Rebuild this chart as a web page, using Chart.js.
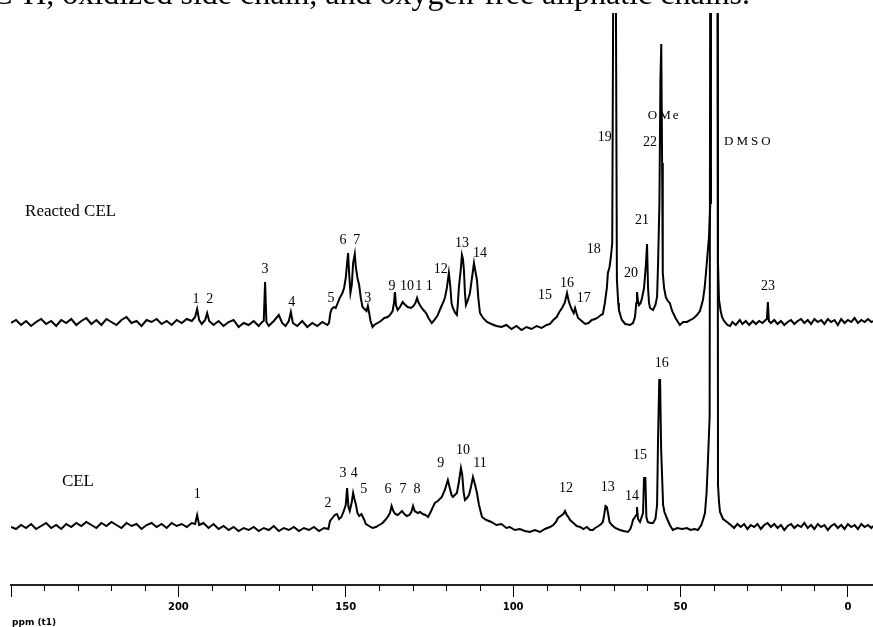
<!DOCTYPE html>
<html>
<head>
<meta charset="utf-8">
<script src="https://cdn.jsdelivr.net/npm/chart.js@4.4.1/dist/chart.umd.min.js"></script>
<style>
  html, body { margin: 0; padding: 0; background: #fff; overflow: hidden; }
  #wrap { position: relative; width: 873px; height: 627px; }
  #caption {
    position: absolute; top: -23px; right: 123px;
    font: 32px/32px "Liberation Serif", "Times New Roman", serif;
    white-space: nowrap; color: #000;
  }
  canvas { position: absolute; left: 0; top: 0; }
</style>
</head>
<body>
<div id="wrap">
  <canvas id="nmrChart" width="873" height="627"></canvas>
  <div id="caption">C-H, oxidized side chain, and oxygen-free aliphatic chains.</div>
</div>
<script>
// 13C NMR traces: [ppm, intensity above baseline]
const reactedSpectrum = [
  [250,0],[248.5,3],[247,-2],[245.5,2],[244,-3],[242.5,1],[241,4],[239.5,-1],[238,2],[236.5,-3],
  [235,3],[233.5,0],[232,4],[230.5,-2],[229,2],[227.5,5],[226,-1],[224.5,3],[223,-2],[221.5,4],
  [220,1],[218.5,-2],[217,3],[215.5,6],[214,0],[212.5,2],[211,-3],[209.5,3],[208,1],[206.5,4],
  [205,-1],[203.5,2],[202,-2],[200.5,3],[199,0],[197.5,4],[196,2],[195,6],[194.4,14],[193.8,3],
  [193,-1],[192,3],[191.4,10],[190.8,2],[189.5,-2],[188,2],[186.5,-3],[185,1],[183.5,3],[182,-4],
  [180.5,0],[179,-2],[177.5,2],[176,-3],[175,1],[174.5,2],[174.1,41],[173.7,1],[173,-3],[171.5,2],
  [170,8],[169,0],[168,-3],[167,2],[166.4,11],[165.8,0],[164.5,-3],[163,2],[161.5,-4],[160,0],
  [158.5,-3],[157,1],[155.5,-2],[155,0],[154.6,10],[154.2,14],[153.5,16],[153,15],[152.4,20],[151.8,25],
  [151,30],[150.5,35],[150,45],[149.6,60],[149.3,70],[149,50],[148.6,30],[148.2,38],[147.8,60],[147.3,69],
  [147,56],[146.5,45],[146,38],[145.5,25],[145,16],[144.4,14],[143.8,12],[143.4,17],[143,10],[142.6,2],
  [142,-4],[141.5,-2],[140.5,0],[139.5,2],[138.5,5],[137.5,6],[136.8,8],[136,12],[135.6,20],[135.3,31],
  [135,18],[134.5,13],[133.8,16],[133,21],[132.5,19],[131.5,16],[130.5,15],[129.8,17],[129.2,20],[128.7,25],
  [128.2,20],[127.5,16],[126.8,13],[126,10],[125.3,5],[124.3,0],[123.5,3],[122.5,8],[121.9,13],[121,20],
  [120.4,25],[119.8,35],[119.2,50],[118.8,38],[118.4,20],[118,15],[117.3,10],[116.8,8],[116.5,20],[116.2,36],
  [115.6,55],[115.3,68],[115,64],[114.7,53],[114.4,30],[114.1,18],[113.6,22],[112.9,30],[112.3,45],[111.7,60],
  [111.3,52],[110.8,43],[110.4,25],[109.9,10],[109,5],[107.8,1],[106.5,-1],[105,-3],[103.5,-4],[102,-2],
  [100.5,-6],[99,-3],[97.5,-7],[96,-4],[94.5,-6],[93,-3],[91.5,-5],[90,-2],[89,-1],[88,3],
  [87,6],[86.2,11],[85.4,15],[84.6,20],[83.9,30],[83.4,22],[82.8,16],[82.4,13],[81.9,10],[81.5,15],
  [81,9],[80.6,5],[79.5,2],[78.5,-1],[77.5,0],[76.5,3],[75.5,4],[74.5,6],[73.8,8],[73.2,9],
  [72.6,20],[72,35],[71.7,50],[71.2,56],[70.8,66],[70.4,80],[70,420],[69.4,420],[69,43],[68.6,20],
  [68.4,13],[67.8,6],[67.5,3],[66.5,-1],[65.1,-2],[64.2,0],[63.6,6],[63.2,20],[63,31],[62.7,22],
  [62.4,18],[61.9,20],[61.5,25],[61.2,30],[60.9,35],[60.3,60],[60,79],[59.7,35],[59.4,20],[59.1,15],
  [58.2,13],[57.5,18],[57,26],[56.7,60],[56.3,120],[56,243],[55.75,279],[55.5,160],[55.3,50],[54.9,35],
  [54.4,26],[53.8,22],[53.2,20],[52.5,12],[51.5,5],[50.2,-2],[49.2,1],[48.1,1],[47,3],[46,5],
  [45.1,8],[44.2,12],[43.3,23],[42.8,35],[42.4,50],[41.9,70],[41.5,86],[41.1,120],[40.9,700],[39,700],
  [38.8,60],[38.5,23],[38,12],[37.6,6],[37,2],[36,-2],[35.2,-3],[34.5,1],[33.5,-2],[32.3,3],
  [31.5,-1],[30.5,2],[29.5,-2],[28.4,2],[27.5,-1],[26.5,2],[25.5,0],[24.6,3],[24.2,4],[23.9,21],
  [23.6,2],[23,0],[22,3],[21,-1],[20,2],[19,-2],[18,1],[17,3],[16,-1],[15,2],
  [14,4],[13,0],[12,3],[11,-1],[10,4],[9,1],[8,3],[7,-1],[6,4],[5,1],
  [4,3],[3,-2],[2,4],[1,0],[0,3],[-1,1],[-2,5],[-3,0],[-4,3],[-5,1],
  [-6,4],[-7,1],[-7.5,2]
];

const celSpectrum = [
  [250,0],[248.5,-2],[247,2],[245.5,-1],[244,3],[242.5,-2],[241,1],[239.5,4],[238,-1],[236.5,2],
  [235,-2],[233.5,3],[232,0],[230.5,4],[229,1],[227.5,5],[226,2],[224.5,-1],[223,4],[221.5,1],
  [220,5],[218.5,2],[217,-1],[215.5,4],[214,1],[212.5,3],[211,-2],[209.5,2],[208,4],[206.5,0],
  [205,3],[203.5,-1],[202,4],[200.5,1],[199,3],[197.5,0],[196,4],[195,3],[194.4,12],[193.8,2],
  [192.5,4],[191,-1],[189.5,3],[188,-2],[186.5,1],[185,-3],[183.5,0],[182,-4],[180.5,-1],[179,-3],
  [177.5,0],[176,-4],[174.5,-1],[173,-3],[171.5,1],[170,-4],[168.5,-1],[167,-3],[165.5,0],[164,-4],
  [162.5,-1],[161,-3],[159.5,0],[158,-4],[156.5,-1],[155.2,-2],[154.7,6],[154,9],[153.3,12],[152.6,13],
  [152,8],[151.3,10],[150.6,16],[150,22],[149.6,39],[149.2,20],[148.8,16],[148.2,25],[147.8,34],[147.4,28],
  [147,23],[146.5,14],[146,11],[145.3,13],[144.6,8],[144,3],[143,1],[142,-1],[141,0],[140,2],
  [139,4],[138.2,7],[137.5,10],[136.8,14],[136.3,21],[135.8,16],[135.2,13],[134.5,12],[133.8,14],[133.2,16],
  [132.5,13],[131.8,11],[131,12],[130.4,15],[129.9,21],[129.4,16],[128.5,14],[127.8,15],[127,13],[126.2,12],
  [125.4,10],[124.5,16],[123.4,24],[122.5,26],[121.3,30],[120.4,37],[119.5,47],[119,40],[118.4,32],[118,30],
  [117.4,32],[116.8,34],[116.2,45],[115.6,59],[115.2,52],[114.8,35],[114.4,27],[113.8,29],[113.2,32],[112.6,40],
  [112,50],[111.5,44],[110.8,34],[110.2,22],[109.3,10],[108,7],[106.5,5],[105,2],[103.5,3],[102,-1],
  [101,0],[99.5,-3],[98,-2],[96.5,-4],[95,-5],[93.5,-3],[92,-5],[90.5,-2],[89,0],[88,2],
  [87.2,5],[86.6,9],[85.8,11],[85,13],[84.5,16],[84,12],[83.5,10],[83,7],[82,4],[81,1],
  [80,0],[79,-2],[78,0],[77,-3],[76.2,-3],[75.5,-1],[74.5,1],[73.7,3],[73.2,5],[72.8,12],
  [72.4,21],[72,20],[71.6,13],[71.2,5],[70.5,2],[69.5,-1],[68.1,-3],[67,-4],[65.7,-5],[65,-2],
  [64.5,3],[64.2,7],[63.6,10],[63.2,12],[63,20],[62.7,8],[62.1,5],[61.6,10],[61.2,14],[60.9,49],
  [60.5,49],[60.2,10],[59.8,5],[59,4],[58.2,4],[57.5,8],[57,22],[56.7,90],[56.35,147],[56.1,147],
  [55.8,79],[55.5,50],[55.2,22],[54.8,15],[54.1,9],[53.2,2],[52.3,-3],[51,-1],[49.5,-2],[48.1,-1],
  [47,-3],[45.8,-2],[44.8,-3],[43.8,2],[43.2,8],[42.7,14],[42.2,35],[41.8,67],[41.3,110],[41,900],
  [39,900],[38.8,42],[38.5,25],[38.2,15],[37.3,8],[36.1,5],[35,2],[34,-1],[33,3],[32,0],
  [31,3],[30,-2],[29,2],[28,0],[27,3],[26,-2],[25,2],[24,4],[23,0],[22,3],
  [21,-1],[20,2],[19,-3],[18,1],[17,3],[16,-1],[15,2],[14,0],[13,4],[12,-1],
  [11,2],[10,-2],[9,3],[8,0],[7,2],[6,-3],[5,1],[4,3],[3,-1],[2,2],
  [1,-2],[0,3],[-1,0],[-2,2],[-3,-2],[-4,3],[-5,0],[-6,2],[-7,-1],[-7.5,1]
];

// peak numbers: [text, ppm, height above the trace baseline]
const reactedLabels = [
  ['1',194.7,24],['2',190.6,24],['3',174.1,54],['4',166.1,21],['5',154.4,25],['6',150.8,83],
  ['7',146.7,83],['3',143.4,25],['9',136.2,37],['10',131.7,37],['1 1',126.6,37],['12',121.6,54],
  ['13',115.3,80],['14',109.9,70],['15',90.5,28],['16',83.9,40],['17',78.9,25],['18',75.9,74],
  ['19',72.6,186],['20',64.8,50],['21',61.5,103],['22',59.1,181],['23',23.9,37]
];
const celLabels = [
  ['1',194.4,33],['2',155.3,24],['3',150.8,54],['4',147.5,54],['5',144.6,38],['6',137.4,38],
  ['7',132.9,38],['8',128.7,38],['9',121.6,64],['10',115,77],['11',109.9,64],['12',84.2,39],
  ['13',71.7,40],['14',64.5,31],['15',62.1,72],['16',55.6,164]
];
const assignLabels = [['OMe',54.9,207,'2px'],['DMSO',29.6,181,'3px']];
const traceNames = [['Reacted CEL',245.8,111],['CEL',234.8,45]];
const majorTicks = [200, 150, 100, 50, 0];

const toPoints = (arr) => arr.map(([x, y]) => ({ x: x, y: y }));

// Draws peak numbers, trace names, axis caption and the short minor ticks
const annotatePlugin = {
  id: 'annotate',
  afterDraw(chart) {
    const ctx = chart.ctx;
    const xs = chart.scales.x;
    ctx.save();
    ctx.fillStyle = '#000';
    ctx.textAlign = 'center';
    ctx.textBaseline = 'middle';
    ctx.font = '14px "Liberation Serif", serif';
    reactedLabels.forEach(([t, p, h]) => {
      ctx.fillText(t, xs.getPixelForValue(p), chart.scales.yR.getPixelForValue(h));
    });
    celLabels.forEach(([t, p, h]) => {
      ctx.fillText(t, xs.getPixelForValue(p), chart.scales.yC.getPixelForValue(h));
    });
    ctx.font = '13px "Liberation Serif", serif';
    assignLabels.forEach(([t, p, h, sp]) => {
      ctx.letterSpacing = sp;
      ctx.fillText(t, xs.getPixelForValue(p), chart.scales.yR.getPixelForValue(h));
    });
    ctx.letterSpacing = '0px';
    ctx.textAlign = 'left';
    ctx.font = '17px "Liberation Serif", serif';
    ctx.fillText(traceNames[0][0], xs.getPixelForValue(traceNames[0][1]), chart.scales.yR.getPixelForValue(traceNames[0][2]));
    ctx.fillText(traceNames[1][0], xs.getPixelForValue(traceNames[1][1]), chart.scales.yC.getPixelForValue(traceNames[1][2]));

    // axis caption under the left end
    ctx.font = 'bold 9px "DejaVu Sans", sans-serif';
    ctx.fillText('ppm (t1)', xs.left + 1, xs.bottom - 4);

    // minor ticks every 10 ppm
    ctx.strokeStyle = '#000';
    ctx.lineWidth = 1;
    xs.ticks.forEach((tk) => {
      if (tk.value % 50 !== 0) {
        const px = Math.round(xs.getPixelForValue(tk.value)) + 0.5;
        ctx.beginPath();
        ctx.moveTo(px, xs.top);
        ctx.lineTo(px, xs.top + 6);
        ctx.stroke();
      }
    });
    ctx.restore();
  }
};

const ctx = document.getElementById('nmrChart').getContext('2d');
const nmrChart = new Chart(ctx, {
  type: 'line',
  data: {
    datasets: [
      {
        label: 'Reacted CEL',
        data: toPoints(reactedSpectrum),
        yAxisID: 'yR',
        borderColor: '#000',
        borderWidth: 2,
        pointRadius: 0,
        tension: 0
      },
      {
        label: 'CEL',
        data: toPoints(celSpectrum),
        yAxisID: 'yC',
        borderColor: '#000',
        borderWidth: 2,
        pointRadius: 0,
        tension: 0
      }
    ]
  },
  options: {
    responsive: false,
    animation: false,
    devicePixelRatio: 1,
    layout: { padding: { left: 11, top: 13, right: 0, bottom: 0 } },
    plugins: { legend: { display: false }, tooltip: { enabled: false } },
    scales: {
      x: {
        type: 'linear',
        reverse: true,
        min: -7.5,
        max: 250,
        afterFit(scale) { scale.height = 42; },
        border: { display: true, color: '#222', width: 2 },
        grid: {
          drawOnChartArea: false,
          tickLength: 12,
          tickColor: (c) => (majorTicks.includes(c.tick.value) || c.tick.value === 250 ? '#000' : 'rgba(0,0,0,0)')
        },
        ticks: {
          stepSize: 10,
          includeBounds: false,
          autoSkip: false,
          maxRotation: 0,
          padding: 4,
          color: '#000',
          font: { family: 'DejaVu Sans', size: 10, weight: 'bold' },
          callback: (v) => (majorTicks.includes(v) ? String(v) : '')
        },
        title: { display: false }
      },
      yR: { type: 'linear', display: false, min: -262, max: 310 },
      yC: { type: 'linear', display: false, min: -58, max: 514 }
    }
  },
  plugins: [annotatePlugin]
});
</script>
</body>
</html>
